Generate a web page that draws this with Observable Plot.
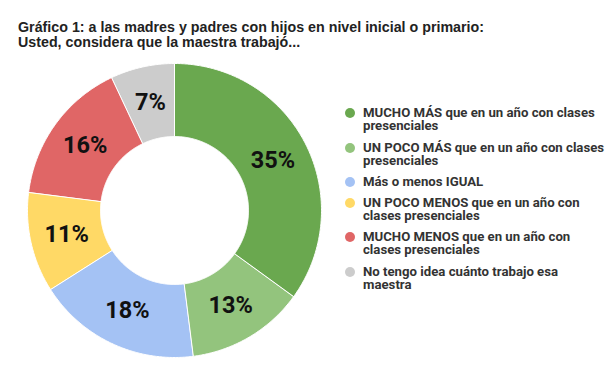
<!DOCTYPE html>
<html>
<head>
<meta charset="utf-8">
<script src="https://cdn.jsdelivr.net/npm/d3@7"></script>
<script src="https://cdn.jsdelivr.net/npm/@observablehq/plot@0.6"></script>
<style>
  html, body { margin: 0; padding: 0; background: #fff; }
  #wrap { position: relative; width: 610px; height: 377px; overflow: hidden; }
  #title { position: absolute; left: 18px; top: 19px; font-family: "Liberation Sans", Arial, sans-serif; font-weight: bold; font-size: 15.5px; line-height: 15px; color: #222; white-space: nowrap; transform: scaleX(0.92); transform-origin: 0 0; }
  #chart { position: absolute; left: 0; top: 56px; }
  #legend { position: absolute; left: 346px; top: 0; font-family: Roboto, sans-serif; font-weight: bold; font-size: 13.2px; line-height: 13px; color: #333; }
  .item { position: absolute; left: 0; white-space: nowrap; }
  .dot { position: absolute; left: -1px; top: 1.5px; width: 10px; height: 10px; border-radius: 50%; }
  .lab { position: absolute; left: 17px; top: 0; }
</style>
</head>
<body>
<div id="wrap">
  <div id="title">Gráfico 1: a las madres y padres con hijos en nivel inicial o primario:<br>Usted, considera que la maestra trabajó...</div>
  <div id="chart"></div>
  <div id="legend"></div>
</div>
<script>
const categories = [
  "MUCHO MÁS que en un año con clases\npresenciales",
  "UN POCO MÁS que en un año con clases\npresenciales",
  "Más o menos IGUAL",
  "UN POCO MENOS que en un año con\nclases presenciales",
  "MUCHO MENOS que en un año con\nclases presenciales",
  "No tengo idea cuánto trabajo esa\nmaestra"
];
const values = [35, 13, 18, 11, 16, 7];
const colors = ["#6aa84f", "#93c47d", "#a4c2f4", "#ffd966", "#e06666", "#cccccc"];
const labels = values.map(v => v + "%");

const W = 610, H = 321, CX = 174, CY = 154, R = 147, INNER = 74 / 147;

const data = categories.map((c, i) => ({category: c, value: values[i], label: labels[i]}));
const pie = d3.pie().value(d => d.value).sort(null)(data);

// polygon points in unit coordinates (y up), angle clockwise from top
const pts = [];
pie.forEach(p => {
  const n = Math.max(8, Math.ceil((p.endAngle - p.startAngle) / 0.01));
  for (let k = 0; k <= n; k++) {
    const a = p.startAngle + (p.endAngle - p.startAngle) * k / n;
    pts.push({category: p.data.category, x: Math.sin(a), y: Math.cos(a)});
  }
  for (let k = n; k >= 0; k--) {
    const a = p.startAngle + (p.endAngle - p.startAngle) * k / n;
    pts.push({category: p.data.category, x: INNER * Math.sin(a), y: INNER * Math.cos(a)});
  }
});
const mid = (1 + INNER) / 2;
const cents = pie.map(p => {
  const a = (p.startAngle + p.endAngle) / 2;
  return {label: p.data.label, x: mid * Math.sin(a), y: mid * Math.cos(a)};
});

const plot = Plot.plot({
  width: W, height: H,
  margin: 0,
  x: {domain: [-CX / R, (W - CX) / R], range: [0, W], axis: null},
  y: {domain: [-(H - CY) / R, CY / R], range: [H, 0], axis: null},
  color: {domain: categories, range: colors},
  style: {background: "transparent"},
  marks: [
    Plot.line(pts, {x: "x", y: "y", z: "category", fill: "category", stroke: "white", strokeWidth: 1, curve: "linear-closed"}),
    Plot.text(cents, {x: "x", y: "y", text: "label", fontSize: 23.5, fontWeight: "bold", fontFamily: "Roboto, sans-serif", fill: "#111"})
  ]
});
document.getElementById("chart").appendChild(plot);

// legend
const legend = document.getElementById("legend");
const starts = [106, 141, 175, 196, 230, 265];
categories.forEach((c, i) => {
  const it = document.createElement("div");
  it.className = "item";
  it.style.top = starts[i] + "px";
  it.innerHTML = `<div class="dot" style="background:${colors[i]}"></div><div class="lab">${c.replace("\n", "<br>")}</div>`;
  legend.appendChild(it);
});
</script>
</body>
</html>
